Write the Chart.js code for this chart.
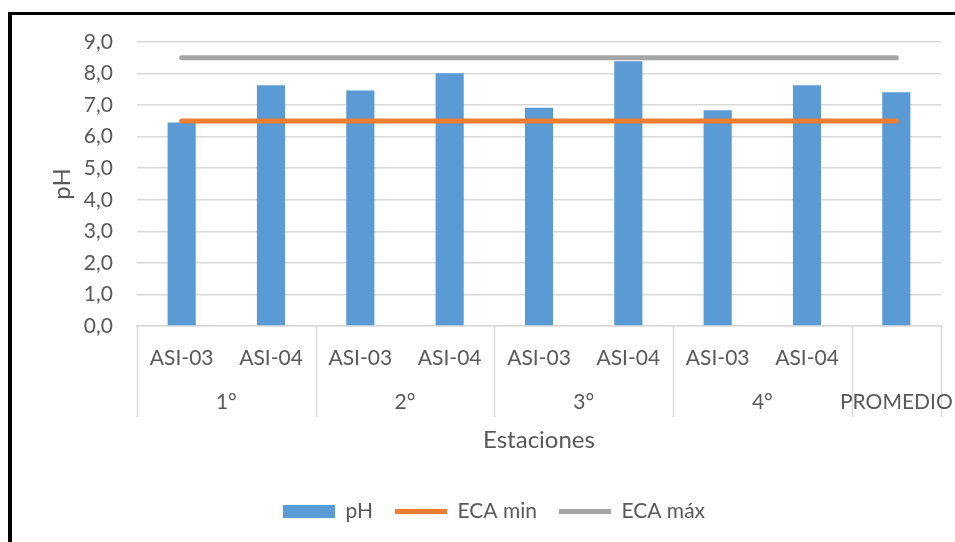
<!DOCTYPE html>
<html>
<head>
<meta charset="utf-8">
<script src="https://cdn.jsdelivr.net/npm/chart.js@4"></script>
<style>
html,body{margin:0;padding:0;background:#fff;}
#wrap{position:relative;width:955px;height:542px;}
canvas{display:block;}
</style>
</head>
<body>
<div id="wrap"><canvas id="c" width="955" height="542"></canvas></div>
<script>
// ---- data ----
const stations = ['ASI-03','ASI-04','ASI-03','ASI-04','ASI-03','ASI-04','ASI-03','ASI-04',''];
const groups = ['1°','2°','3°','4°','PROMEDIO'];
const groupSpans = [2,2,2,2,1];
const phValues = [6.45, 7.63, 7.46, 8.01, 6.92, 8.39, 6.84, 7.63, 7.41];
const ecaMin = [6.5, 6.5, 6.5, 6.5, 6.5, 6.5, 6.5, 6.5, 6.5];
const ecaMax = [8.5, 8.5, 8.5, 8.5, 8.5, 8.5, 8.5, 8.5, 8.5];
const seriesNames = ['pH','ECA min','ECA máx'];
const yTitle = 'pH';
const xTitle = 'Estaciones';

const TXT = '#595959';
const FONT = 'Lato';

const groupAxisPlugin = {
  id: 'groupAxis',
  afterDraw(chart) {
    const ctx = chart.ctx;
    const x = chart.scales.x;
    const axisY = x.top;
    const bottomY = 417;
    const half = (x.getPixelForValue(1) - x.getPixelForValue(0)) / 2;
    ctx.save();
    ctx.strokeStyle = '#D9D9D9';
    ctx.lineWidth = 1.5;
    let idx = 0;
    const bounds = [idx];
    groupSpans.forEach(s => { idx += s; bounds.push(idx); });
    bounds.forEach(b => {
      const px = Math.round(x.getPixelForValue(b) - half) + 0.5;
      ctx.beginPath();
      ctx.moveTo(px, axisY);
      ctx.lineTo(px, bottomY);
      ctx.stroke();
    });
    ctx.fillStyle = TXT;
    ctx.font = '21px ' + FONT;
    ctx.textAlign = 'center';
    ctx.textBaseline = 'middle';
    let start = 0;
    groups.forEach((g, i) => {
      const end = start + groupSpans[i] - 1;
      const cx = (x.getPixelForValue(start) + x.getPixelForValue(end)) / 2;
      ctx.fillText(g, cx, 402);
      start += groupSpans[i];
    });
    ctx.restore();
  },
  beforeDraw(chart) {
    const ctx = chart.ctx;
    ctx.save();
    ctx.fillStyle = '#fff';
    ctx.fillRect(0, 0, chart.width, chart.height);
    ctx.fillStyle = '#000';
    ctx.fillRect(8, 12, 4, 530);
    ctx.fillRect(8, 12, 947, 3);
    ctx.restore();
  }
};

new Chart(document.getElementById('c'), {
  type: 'bar',
  data: {
    labels: stations,
    datasets: [
      {
        type: 'line', label: seriesNames[1], data: ecaMin,
        borderColor: '#ED7D31', backgroundColor: '#ED7D31', borderWidth: 5,
        borderCapStyle: 'round', pointRadius: 0, pointStyle: 'line', order: 1
      },
      {
        type: 'line', label: seriesNames[2], data: ecaMax,
        borderColor: '#A5A5A5', backgroundColor: '#A5A5A5', borderWidth: 5,
        borderCapStyle: 'round', pointRadius: 0, pointStyle: 'line', order: 1
      },
      {
        type: 'bar', label: seriesNames[0], data: phValues,
        backgroundColor: '#5B9BD5', borderWidth: 0,
        categoryPercentage: 1, barPercentage: 0.315, pointStyle: 'rect', order: 2
      }
    ]
  },
  options: {
    responsive: false,
    animation: false,
    layout: { padding: { left: 47, right: 14, top: 42, bottom: 10 } },
    plugins: {
      legend: {
        position: 'bottom',
        labels: {
          usePointStyle: true, pointStyleWidth: 52, boxHeight: 13,
          color: TXT, font: { family: FONT, size: 21 }, padding: 22,
          sort: (a, b) => [2,0,1].indexOf(a.datasetIndex) - [2,0,1].indexOf(b.datasetIndex)
        }
      },
      tooltip: { enabled: false }
    },
    scales: {
      x: {
        offset: true,
        grid: { display: false, drawTicks: false },
        border: { display: true, color: '#D9D9D9', width: 1.5 },
        ticks: { color: TXT, font: { family: FONT, size: 21 }, padding: 20, maxRotation: 0, autoSkip: false },
        title: { display: true, text: xTitle, color: TXT, font: { family: FONT, size: 24 }, padding: { top: 0, bottom: 24 } },
        afterFit(s) { s.height = 153; }
      },
      y: {
        min: 0, max: 9,
        ticks: { stepSize: 1, color: TXT, font: { family: FONT, size: 21 }, padding: 24,
          callback: v => v.toFixed(1).replace('.', ',') },
        grid: { color: '#D9D9D9', lineWidth: 1.5, drawTicks: false },
        border: { display: false },
        title: { display: true, text: yTitle, color: TXT, font: { family: FONT, size: 24 }, padding: { top: 1, bottom: 0 } },
        afterFit(s) { s.width = 90; }
      }
    }
  },
  plugins: [groupAxisPlugin]
});
</script>
</body>
</html>
